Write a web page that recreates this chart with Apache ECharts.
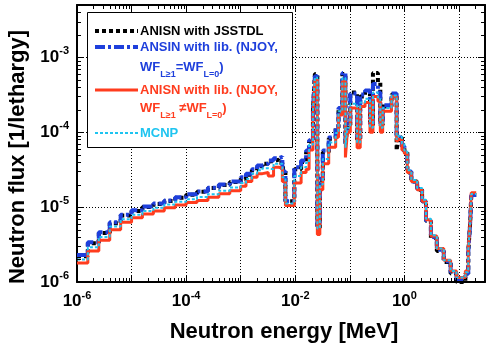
<!DOCTYPE html>
<html>
<head>
<meta charset="utf-8">
<script src="https://cdn.jsdelivr.net/npm/echarts@6/dist/echarts.min.js"></script>
<style>
html, body { margin: 0; padding: 0; background: #fff; }
#chart { width: 488px; height: 351px; }
</style>
</head>
<body>
<div id="chart"></div>
<script>
// group boundaries [MeV], one more than the values
var energyEdges = [
    1e-6, 1.58e-6, 2.51e-6, 3.98e-6, 6.31e-6, 1e-5, 1.58e-5, 2.51e-5, 3.98e-5, 6.31e-5,
    1e-4, 1.58e-4, 2.51e-4, 3.98e-4, 6.31e-4,
    1e-3, 1.25e-3, 1.6e-3, 2e-3, 2.5e-3, 3.2e-3, 4e-3, 5e-3, 5.8e-3, 6.6e-3,
    9.6e-3, 1.28e-2, 1.58e-2, 1.79e-2, 2.11e-2, 2.29e-2, 2.54e-2, 2.82e-2, 3.2e-2, 4.1e-2,
    5.5e-2, 6.2e-2, 7.3e-2, 8.3e-2, 9.0e-2, 0.102, 0.136, 0.155, 0.19, 0.234,
    0.265, 0.327, 0.362, 0.40, 0.58, 0.72, 0.78, 0.9,
    1.0, 1.13, 1.34, 1.71, 2.11, 2.49, 3.06, 3.93, 5.26, 7.03, 9.0, 13.1, 14.8, 16.1, 16.8,
    20.7
];

var fluxJsstdl = [
    2.2e-6, 3.3e-6, 4.5e-6, 6.1e-6, 7.7e-6, 8.9e-6, 1.0e-5, 1.1e-5, 1.21e-5, 1.33e-5,
    1.46e-5, 1.6e-5, 1.8e-5, 1.98e-5, 2.17e-5,
    2.4e-5, 2.7e-5, 3.1e-5, 3.5e-5, 3.8e-5, 4.1e-5, 4.3e-5, 3.9e-5, 3.3e-5, 1.2e-5,
    3.2e-5, 4.0e-5, 5.4e-5, 7.5e-5, 2.0e-4, 6.0e-4, 5.3e-6, 2.3e-5, 5.4e-5, 8.2e-5,
    1.15e-4, 2.0e-4, 6.0e-4, 6.8e-5, 1.25e-4, 3.4e-4, 8.0e-5, 3.0e-4, 3.4e-4, 1.25e-4,
    6.2e-4, 4.6e-4, 1.25e-4, 2.2e-4, 3.2e-4, 5.7e-5, 8.5e-5, 6.5e-5,
    5.5e-5, 2.9e-5, 2.2e-5, 1.7e-5, 1.2e-5, 6.5e-6, 3.9e-6, 2.6e-6, 1.85e-6, 1.3e-6,
    1.0e-6, 1.3e-6, 2.5e-6, 6.4e-6, 1.45e-5
];

var fluxNjoyEq = [
    2.3e-6, 3.4e-6, 4.6e-6, 6.3e-6, 7.9e-6, 9.1e-6, 1.02e-5, 1.12e-5, 1.23e-5, 1.35e-5,
    1.48e-5, 1.62e-5, 1.82e-5, 2.0e-5, 2.2e-5,
    2.5e-5, 2.8e-5, 3.2e-5, 3.6e-5, 3.8e-5, 4.2e-5, 4.5e-5, 4.7e-5, 3.0e-5, 1.2e-5,
    3.4e-5, 4.2e-5, 5.7e-5, 7.8e-5, 2.1e-4, 5.6e-4, 5.5e-6, 2.4e-5, 5.7e-5, 8.5e-5,
    1.2e-4, 2.1e-4, 6.2e-4, 7.0e-5, 1.3e-4, 3.3e-4, 8.5e-5, 3.2e-4, 3.6e-4, 1.3e-4,
    4.4e-4, 3.4e-4, 1.3e-4, 2.3e-4, 3.3e-4, 8.5e-5, 8.5e-5, 6.5e-5,
    5.5e-5, 3.0e-5, 2.2e-5, 1.75e-5, 1.2e-5, 6.6e-6, 4.0e-6, 2.7e-6, 1.9e-6, 1.35e-6,
    1.1e-6, 1.3e-6, 2.5e-6, 6.4e-6, 1.45e-5
];

var fluxNjoyNe = [
    1.8e-6, 2.6e-6, 3.6e-6, 5.0e-6, 6.3e-6, 7.2e-6, 8.1e-6, 8.9e-6, 9.8e-6, 1.07e-5,
    1.15e-5, 1.23e-5, 1.35e-5, 1.51e-5, 1.66e-5,
    1.9e-5, 2.2e-5, 2.5e-5, 2.8e-5, 2.9e-5, 2.6e-5, 3.4e-5, 3.3e-5, 2.2e-5, 1.05e-5,
    2.1e-5, 2.9e-5, 3.2e-5, 5.8e-5, 1.7e-4, 5.0e-4, 4.3e-6, 1.7e-5, 3.8e-5, 6.3e-5,
    8.6e-5, 1.7e-4, 4.8e-4, 4.6e-5, 1.0e-4, 2.1e-4, 6.2e-5, 2.2e-4, 2.5e-4, 1.0e-4,
    3.0e-4, 2.6e-4, 1.0e-4, 1.9e-4, 3.0e-4, 7.5e-5, 8.0e-5, 5.8e-5,
    5.2e-5, 2.9e-5, 2.2e-5, 1.7e-5, 1.2e-5, 6.8e-6, 4.1e-6, 2.8e-6, 1.95e-6, 1.4e-6,
    1.15e-6, 1.4e-6, 2.7e-6, 6.8e-6, 1.55e-5
];

var fluxMcnp = [
    2.0e-6, 2.9e-6, 4.0e-6, 5.5e-6, 6.9e-6, 7.9e-6, 8.9e-6, 9.8e-6, 1.08e-5, 1.18e-5,
    1.27e-5, 1.36e-5, 1.49e-5, 1.66e-5, 1.83e-5,
    2.1e-5, 2.4e-5, 2.8e-5, 3.1e-5, 3.3e-5, 3.2e-5, 3.8e-5, 3.8e-5, 2.5e-5, 1.12e-5,
    2.6e-5, 3.4e-5, 3.9e-5, 6.8e-5, 1.9e-4, 5.4e-4, 5.2e-6, 2.0e-5, 4.4e-5, 7.3e-5,
    9.8e-5, 1.9e-4, 5.3e-4, 6.2e-5, 1.15e-4, 2.4e-4, 7.3e-5, 2.5e-4, 2.8e-4, 1.15e-4,
    3.4e-4, 2.9e-4, 1.15e-4, 2.1e-4, 3.1e-4, 8.0e-5, 9.0e-5, 7.0e-5,
    5.7e-5, 3.1e-5, 2.3e-5, 1.8e-5, 1.25e-5, 7.0e-6, 4.2e-6, 2.8e-6, 1.95e-6, 1.4e-6,
    1.15e-6, 1.35e-6, 2.6e-6, 6.6e-6, 1.5e-5
];

var xLabelPowers = [-6, -4, -2, 0];
var yLabelPowers = [-6, -5, -4, -3];

var X_MIN = 1e-6, X_MAX = 30, Y_MIN = 1e-6, Y_MAX = 5e-3;
var FONT = '"Liberation Sans", Arial, sans-serif';

function steps(vals) {
    var d = [];
    for (var i = 0; i < vals.length; i++) d.push([energyEdges[i], vals[i]]);
    d.push([energyEdges[vals.length], vals[vals.length - 1]]);
    return d;
}

function powLabel(allowed) {
    return function (v) {
        var l = Math.log10(v);
        var p = Math.round(l);
        if (Math.abs(l - p) > 1e-6 || allowed.indexOf(p) < 0) return '';
        return '{b|10}{e|' + p + '}';
    };
}

var labelRich = {
    b: { fontFamily: FONT, fontWeight: 'bold', fontSize: 17, color: '#000' },
    e: { fontFamily: FONT, fontWeight: 'bold', fontSize: 11, color: '#000', padding: [0, 0, 12, 0] }
};

function legendRich(color) {
    return {
        m: { fontFamily: FONT, fontWeight: 'bold', fontSize: 13, color: color },
        s: { fontFamily: FONT, fontWeight: 'bold', fontSize: 9, color: color, padding: [16, 0, 0, 0] }
    };
}

// minor log ticks (2..9 per decade), drawn on all four sides
var tickMarks = [];
for (var p = -6; p <= 1; p++) {
    for (var m = 2; m <= 9; m++) {
        var v = m * Math.pow(10, p);
        if (v < X_MAX) tickMarks.push([v, 1e-5, 0]);
        if (p <= -3 && v < Y_MAX) tickMarks.push([1e-3, v, 1]);
    }
}

function axisBase(pos, isX) {
    return {
        type: 'log',
        logBase: 10,
        position: pos,
        min: isX ? X_MIN : Y_MIN,
        max: isX ? X_MAX : Y_MAX,
        axisLine: { show: true, onZero: false, lineStyle: { color: '#000', width: 2 } },
        axisTick: { show: true, inside: true, length: 7, lineStyle: { color: '#000', width: 1 } },
        minorTick: { show: false },
        splitLine: { show: false },
        axisLabel: { show: false }
    };
}

var xBottom = axisBase('bottom', true);
xBottom.splitLine = { show: true, lineStyle: { color: '#000', type: [1, 2], width: 1 } };
xBottom.axisLabel = { show: true, margin: 8, formatter: powLabel(xLabelPowers), rich: labelRich };
var yLeft = axisBase('left', false);
yLeft.splitLine = { show: true, lineStyle: { color: '#000', type: [1, 2], width: 1 } };
yLeft.axisLabel = { show: true, margin: 8, formatter: powLabel(yLabelPowers), rich: labelRich };

var chart = echarts.init(document.getElementById('chart'), null, { renderer: 'canvas' });

var option = {
    animation: false,
    backgroundColor: '#fff',
    grid: { left: 77, right: -4, top: 5, bottom: 69, containLabel: false },
    xAxis: [xBottom, axisBase('top', true)],
    yAxis: [yLeft, axisBase('right', false)],
    series: [
        {
            name: 'ANISN with JSSTDL', type: 'line', step: 'end', showSymbol: false,
            data: steps(fluxJsstdl), z: 2,
            lineStyle: { color: '#000', width: 4, type: [4, 3] }
        },
        {
            name: 'ANSIN with lib. (NJOY, WF L>=1 = WF L=0)', type: 'line', step: 'end', showSymbol: false,
            data: steps(fluxNjoyEq), z: 3,
            lineStyle: { color: '#1e3fdc', width: 4, type: [10, 3, 3, 3] }
        },
        {
            name: 'ANISN with lib. (NJOY, WF L>=1 != WF L=0)', type: 'line', step: 'end', showSymbol: false,
            data: steps(fluxNjoyNe), z: 4,
            lineStyle: { color: '#ff3c1e', width: 3, type: 'solid' }
        },
        {
            name: 'MCNP', type: 'line', step: 'end', showSymbol: false,
            data: steps(fluxMcnp), z: 5,
            lineStyle: { color: '#1ec4f0', width: 2, type: [3, 2] }
        },
        {
            type: 'custom', silent: true, z: 6, clip: false,
            data: tickMarks,
            renderItem: function (params, api) {
                var cs = params.coordSys;
                var ln = { stroke: '#000', lineWidth: 1 };
                if (api.value(2) === 0) {
                    var px = Math.round(api.coord([api.value(0), 1e-5])[0]) + 0.5;
                    var yb = cs.y + cs.height;
                    return { type: 'group', children: [
                        { type: 'line', shape: { x1: px, y1: yb, x2: px, y2: yb - 4 }, style: ln },
                        { type: 'line', shape: { x1: px, y1: cs.y, x2: px, y2: cs.y + 4 }, style: ln }
                    ] };
                }
                var py = Math.round(api.coord([1e-3, api.value(1)])[1]) + 0.5;
                var xr = cs.x + cs.width;
                return { type: 'group', children: [
                    { type: 'line', shape: { x1: cs.x, y1: py, x2: cs.x + 4, y2: py }, style: ln },
                    { type: 'line', shape: { x1: xr, y1: py, x2: xr - 4, y2: py }, style: ln }
                ] };
            }
        }
    ],
    graphic: [
        // legend box
        { type: 'rect', z: 100, shape: { x: 87.5, y: 12.5, width: 205, height: 135 },
          style: { fill: '#fff', stroke: '#000', lineWidth: 1 } },
        { type: 'line', z: 101, shape: { x1: 95, y1: 31, x2: 138, y2: 31 },
          style: { stroke: '#000', lineWidth: 4, lineDash: [4, 3] } },
        { type: 'line', z: 101, shape: { x1: 95, y1: 47, x2: 138, y2: 47 },
          style: { stroke: '#1e3fdc', lineWidth: 4, lineDash: [10, 3, 3, 3] } },
        { type: 'line', z: 101, shape: { x1: 95, y1: 90, x2: 138, y2: 90 },
          style: { stroke: '#ff3c1e', lineWidth: 3 } },
        { type: 'line', z: 101, shape: { x1: 95, y1: 133, x2: 138, y2: 133 },
          style: { stroke: '#1ec4f0', lineWidth: 2, lineDash: [3, 2] } },
        { type: 'text', z: 101, x: 140, y: 31,
          style: { text: 'ANISN with JSSTDL', fill: '#000', fontFamily: FONT, fontWeight: 'bold', fontSize: 13, verticalAlign: 'middle' } },
        { type: 'text', z: 101, x: 140, y: 47,
          style: { text: 'ANSIN with lib. (NJOY,', fill: '#1e3fdc', fontFamily: FONT, fontWeight: 'bold', fontSize: 13, verticalAlign: 'middle' } },
        { type: 'text', z: 101, x: 140, y: 67,
          style: { text: '{m|WF}{s|L≥1}{m|=WF}{s|L=0}{m|)}', fill: '#1e3fdc', fontFamily: FONT, fontWeight: 'bold', fontSize: 13, verticalAlign: 'middle',
                   rich: legendRich('#1e3fdc') } },
        { type: 'text', z: 101, x: 140, y: 90,
          style: { text: 'ANISN with lib. (NJOY,', fill: '#ff3c1e', fontFamily: FONT, fontWeight: 'bold', fontSize: 13, verticalAlign: 'middle' } },
        { type: 'text', z: 101, x: 140, y: 108,
          style: { text: '{m|WF}{s|L≥1}{m| ≠WF}{s|L=0}{m|)}', fill: '#ff3c1e', fontFamily: FONT, fontWeight: 'bold', fontSize: 13, verticalAlign: 'middle',
                   rich: legendRich('#ff3c1e') } },
        { type: 'text', z: 101, x: 140, y: 133,
          style: { text: 'MCNP', fill: '#1ec4f0', fontFamily: FONT, fontWeight: 'bold', fontSize: 13, verticalAlign: 'middle' } },
        // axis titles
        { type: 'text', x: 284, y: 332,
          style: { text: 'Neutron energy [MeV]', fill: '#000', fontFamily: FONT, fontWeight: 'bold', fontSize: 22, align: 'center', verticalAlign: 'middle' } },
        { type: 'text', x: 18, y: 157, rotation: Math.PI / 2,
          style: { text: 'Neutron flux [1/lethargy]', fill: '#000', fontFamily: FONT, fontWeight: 'bold', fontSize: 22, align: 'center', verticalAlign: 'middle' } }
    ]
};

chart.setOption(option);
</script>
</body>
</html>
